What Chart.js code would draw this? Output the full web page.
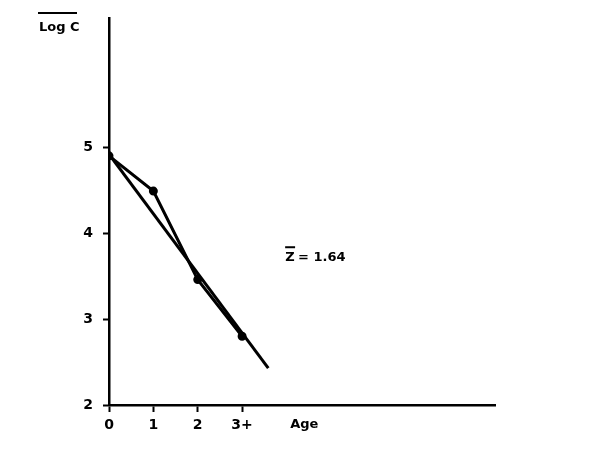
<!DOCTYPE html>
<html><head><meta charset="utf-8">
<script src="https://cdn.jsdelivr.net/npm/chart.js@4/dist/chart.umd.min.js"></script>
<style>html,body{margin:0;padding:0;background:#fff}#wrap{width:600px;height:461px}</style>
</head><body><div id="wrap"><canvas id="c" width="600" height="461"></canvas></div>
<script>
const ages = [0, 1, 2, 3];
const logC = [4.9, 4.49, 3.46, 2.8];
const fitX = [0, 3.59];
const fitY = [4.92, 2.43];
const xTicks = [0, 1, 2, 3];
const xTickLabels = ['0', '1', '2', '3+'];
const yTicks = [2, 3, 4, 5];
const zText = '= 1.64';

const FONT = '"DejaVu Sans", sans-serif';

const textPlugin = {
  id: 'texts',
  afterDraw(chart) {
    const ctx = chart.ctx, x = chart.scales.x, y = chart.scales.y;
    ctx.save();
    ctx.fillStyle = '#000'; ctx.strokeStyle = '#000';
    ctx.font = 'bold 13px ' + FONT;
    ctx.textBaseline = 'middle';
    ctx.textAlign = 'center';
    ctx.fillText('Age', x.getPixelForValue(4.4), 425);
    ctx.textAlign = 'left';
    ctx.fillText('Log C', 39, 28);
    ctx.lineWidth = 2;
    ctx.beginPath(); ctx.moveTo(38, 13); ctx.lineTo(77, 13); ctx.stroke();
    const zx = x.getPixelForValue(3.97), zy = y.getPixelForValue(3.72);
    ctx.fillText('Z', zx, zy);
    const zw = ctx.measureText('Z ').width;
    ctx.beginPath(); ctx.moveTo(zx, zy - 10); ctx.lineTo(zx + zw - 4, zy - 10); ctx.stroke();
    ctx.fillText(zText, zx + zw - 1, zy);
    ctx.restore();
  }
};

new Chart(document.getElementById('c'), {
  type: 'scatter',
  data: {
    datasets: [
      {
        data: ages.map((a, i) => ({x: a, y: logC[i]})),
        showLine: true, borderColor: '#000', borderWidth: 3,
        pointRadius: 3, pointBackgroundColor: '#000', pointBorderColor: '#000'
      },
      {
        data: fitX.map((a, i) => ({x: a, y: fitY[i]})),
        showLine: true, borderColor: '#000', borderWidth: 3, pointRadius: 0
      }
    ]
  },
  options: {
    responsive: false, animation: false, devicePixelRatio: 1,
    layout: {padding: {top: 12, right: 105, left: 0, bottom: 0}},
    plugins: {legend: {display: false}, tooltip: {enabled: false}},
    scales: {
      x: {
        type: 'linear', min: 0, max: 8.7,
        afterBuildTicks: s => { s.ticks = xTicks.map(v => ({value: v})); },
        afterFit: s => { s.height = 56; },
        border: {color: '#000', width: 2.5},
        grid: {drawOnChartArea: false, drawTicks: true, tickLength: 7, tickColor: '#000', tickWidth: 2},
        ticks: {
          color: '#000', font: {family: FONT, size: 14, weight: 'bold'}, padding: 5,
          maxRotation: 0, autoSkip: false,
          callback: v => { const i = xTicks.indexOf(v); return i >= 0 ? xTickLabels[i] : ''; }
        }
      },
      y: {
        type: 'linear', min: 2, max: 6.5,
        afterBuildTicks: s => { s.ticks = yTicks.map(v => ({value: v})); },
        afterFit: s => { s.width = 109; },
        border: {color: '#000', width: 2.5},
        grid: {drawOnChartArea: false, drawTicks: true, tickLength: 6, tickColor: '#000', tickWidth: 2},
        ticks: {
          color: '#000', font: {family: FONT, size: 14, weight: 'bold'}, padding: 10,
          autoSkip: false, callback: v => String(v)
        }
      }
    }
  },
  plugins: [textPlugin]
});
</script></body></html>
